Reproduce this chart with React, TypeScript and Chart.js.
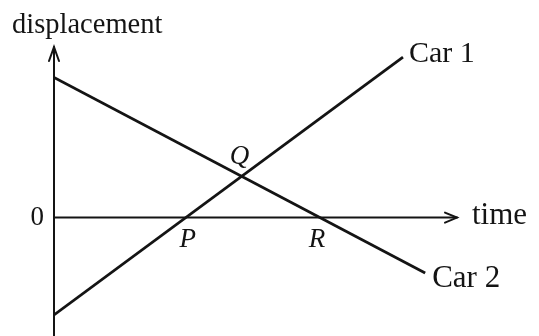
import React, { useEffect, useRef } from "react";
import { Chart, registerables } from "chart.js";

Chart.register(...registerables);

// ---- data ----
const car1Times = [0, 8.66];
const car1Disp = [-4.85, 8.0];
const car2Times = [0, 9.21];
const car2Disp = [6.98, -2.76];
const timeAxisRange = [0, 10];
const dispAxisRange = [-5.9, 8.5];
const seriesNames = ["Car 1", "Car 2"];
const axisTitles = ["time", "displacement"];
const originLabel = "0";
const pointNames = ["P", "Q", "R"];

const INK = "#141414";
const SERIF = '"Liberation Serif", "Times New Roman", serif';

function lineAt(ts: number[], ds: number[]) {
  const m = (ds[1] - ds[0]) / (ts[1] - ts[0]);
  return { m, b: ds[0] - m * ts[0] };
}

const sketchPlugin = {
  id: "sketch",
  beforeDatasetsDraw(chart: any) {
    const { ctx, scales } = chart;
    const x = scales.x;
    const y = scales.y;
    const x0 = x.getPixelForValue(timeAxisRange[0]);
    const x1 = x.getPixelForValue(timeAxisRange[1]);
    const y0 = y.getPixelForValue(0);
    const yTop = y.getPixelForValue(dispAxisRange[1]);
    const yBot = y.getPixelForValue(dispAxisRange[0]);
    ctx.save();
    ctx.strokeStyle = INK;
    ctx.lineWidth = 2;
    ctx.lineCap = "round";
    // vertical axis
    ctx.beginPath();
    ctx.moveTo(x0, yBot + 2);
    ctx.lineTo(x0, yTop);
    ctx.stroke();
    ctx.beginPath();
    ctx.moveTo(x0 - 5, yTop + 14);
    ctx.lineTo(x0, yTop);
    ctx.lineTo(x0 + 5, yTop + 14);
    ctx.stroke();
    // horizontal axis
    ctx.beginPath();
    ctx.moveTo(x0, y0);
    ctx.lineTo(x1, y0);
    ctx.stroke();
    ctx.beginPath();
    ctx.moveTo(x1 - 12, y0 - 5);
    ctx.lineTo(x1, y0);
    ctx.lineTo(x1 - 12, y0 + 5);
    ctx.stroke();
    ctx.restore();
  },
  afterDatasetsDraw(chart: any) {
    const { ctx, scales } = chart;
    const x = scales.x;
    const y = scales.y;
    const px = (t: number) => x.getPixelForValue(t);
    const py = (d: number) => y.getPixelForValue(d);
    const l1 = lineAt(car1Times, car1Disp);
    const l2 = lineAt(car2Times, car2Disp);
    const tP = -l1.b / l1.m;
    const tR = -l2.b / l2.m;
    const tQ = (l2.b - l1.b) / (l1.m - l2.m);
    const dQ = l1.m * tQ + l1.b;

    ctx.save();
    ctx.fillStyle = INK;
    ctx.textBaseline = "alphabetic";

    // axis titles
    ctx.font = `28.5px ${SERIF}`;
    ctx.textAlign = "left";
    ctx.fillText(axisTitles[1], 12, py(dispAxisRange[1]) - 14);
    ctx.font = `31px ${SERIF}`;
    ctx.fillText(axisTitles[0], px(timeAxisRange[1]) + 15, py(0) + 6);

    // origin label
    ctx.font = `27px ${SERIF}`;
    ctx.textAlign = "right";
    ctx.textBaseline = "middle";
    ctx.fillText(originLabel, px(0) - 10, py(0));
    ctx.textBaseline = "alphabetic";

    // series labels
    ctx.textAlign = "left";
    ctx.font = `30px ${SERIF}`;
    ctx.fillText(seriesNames[0], px(car1Times[1]) + 6, py(car1Disp[1]) + 5);
    ctx.font = `31px ${SERIF}`;
    ctx.fillText(seriesNames[1], px(car2Times[1]) + 7, py(car2Disp[1]) + 14);

    // point labels
    ctx.font = `italic 27px ${SERIF}`;
    ctx.textAlign = "center";
    ctx.fillText(pointNames[0], px(tP) + 2, py(0) + 29);
    ctx.fillText(pointNames[1], px(tQ) - 2, py(dQ) - 12);
    ctx.fillText(pointNames[2], px(tR) - 3, py(0) + 29);
    ctx.restore();
  },
};

export default function App() {
  const ref = useRef<HTMLCanvasElement | null>(null);
  useEffect(() => {
    if (!ref.current) return;
    const chart = new Chart(ref.current, {
      type: "scatter",
      data: {
        datasets: [
          {
            label: seriesNames[0],
            data: car1Times.map((t, i) => ({ x: t, y: car1Disp[i] })),
            showLine: true,
            borderColor: INK,
            borderWidth: 2.8,
            pointRadius: 0,
            fill: false,
          },
          {
            label: seriesNames[1],
            data: car2Times.map((t, i) => ({ x: t, y: car2Disp[i] })),
            showLine: true,
            borderColor: INK,
            borderWidth: 2.8,
            pointRadius: 0,
            fill: false,
          },
        ],
      },
      options: {
        animation: false,
        responsive: false,
        maintainAspectRatio: false,
        layout: { padding: { left: 54, right: 82, top: 47, bottom: 0 } },
        scales: {
          x: { type: "linear", min: timeAxisRange[0], max: timeAxisRange[1], display: false },
          y: { type: "linear", min: dispAxisRange[0], max: dispAxisRange[1], display: false },
        },
        plugins: { legend: { display: false }, tooltip: { enabled: false } },
      },
      plugins: [sketchPlugin],
    });
    return () => chart.destroy();
  }, []);
  return (
    <div style={{ position: "absolute", left: 0, top: 0, width: 539, height: 336, background: "#fff" }}>
      <canvas ref={ref} width={539} height={336} style={{ width: 539, height: 336, display: "block" }} />
    </div>
  );
}
